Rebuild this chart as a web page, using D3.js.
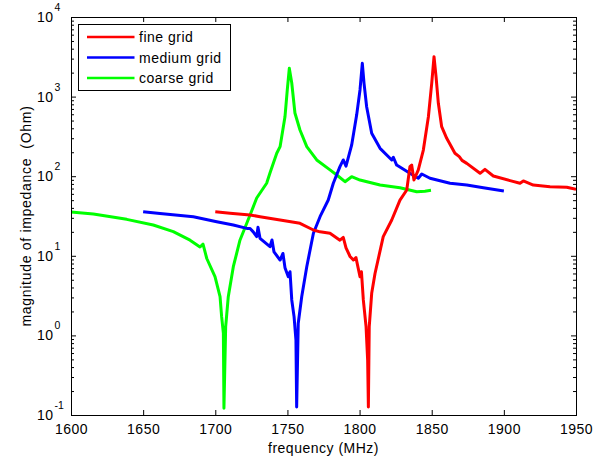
<!DOCTYPE html>
<html>
<head>
<meta charset="utf-8">
<script src="https://cdn.jsdelivr.net/npm/d3@7"></script>
<style>
  html, body { margin: 0; padding: 0; background: #fff; }
  svg text { font-family: "Liberation Sans", Arial, Helvetica, sans-serif; fill: #000; }
</style>
</head>
<body>
<svg id="chart" width="600" height="462"></svg>
<script>
// Impedance magnitude versus frequency for three mesh resolutions
const fineFreq = [1700, 1710.2, 1724.1, 1731.0, 1744.9, 1758.7, 1768.0, 1772.6, 1779.5, 1786.4, 1788.7, 1790.6,
  1793.4, 1795.7, 1797.5, 1800.3, 1801.3, 1802.6, 1804.5, 1805.6, 1806.1, 1806.7, 1808.4, 1810.7, 1816.4,
  1822.3, 1828.0, 1832.7, 1834.9, 1836.1, 1837.7, 1840.7, 1844.2, 1847.7, 1850.0, 1851.6, 1853.0, 1854.6,
  1856.9, 1860.4, 1866.1, 1869.1, 1871.0, 1874.3, 1883.5, 1886.9, 1892.7, 1904.3, 1911.2, 1913.5, 1920.4,
  1932.0, 1943.6, 1950];
const fineOhm = [35.8, 34.3, 32.6, 31.0, 28.2, 25.6, 21.1, 20.0, 19.2, 15.7, 17.0, 12.6,
  9.8, 8.85, 9.5, 5.46, 6.3, 2.79, 1.29, 0.49, 0.126, 1.29, 3.38, 6.0, 17.4,
  28.2, 50, 67.1, 132, 138, 89.5, 120, 213, 558, 1469, 3170, 1778, 824,
  419, 299, 194, 176, 158, 145, 108.7, 122, 100.7, 87.9, 81.5, 87.1, 77.4,
  73.8, 72.6, 68.4];

const mediumFreq = [1650, 1661.7, 1684.8, 1701.0, 1712.5, 1721.8, 1724.1, 1726.3, 1728.7, 1729.6, 1731.0,
  1737.9, 1739.3, 1740.7, 1744.9, 1746.9, 1748.3, 1750.6, 1751.8, 1753.0, 1754.6, 1755.9, 1756.4, 1757.5,
  1759.9, 1763.4, 1768.0, 1772.6, 1778.3, 1781.8, 1786.4, 1788.7, 1790.6, 1794.5, 1798.0, 1800.3, 1801.9,
  1803.1, 1804.9, 1808.4, 1814.2, 1822.3, 1823.4, 1825.7, 1834.9, 1840.7, 1843.1, 1848.8, 1862.7,
  1874.3, 1885.8, 1900];
const mediumOhm = [35.8, 33.9, 31.0, 26.8, 24.4, 22.1, 22.0, 20.0, 17.4, 22.9, 16.6,
  13.0, 15.8, 11.2, 8.85, 10.7, 7.1, 5.46, 6.3, 2.79, 1.72, 0.875, 0.126, 1.42,
  3.06, 7.3, 19.2, 31.0, 50.2, 81.5, 132, 160, 134, 245, 590, 1211, 2620,
  1469, 746, 346, 224, 160, 173, 138, 108.7, 94.2, 106.7, 94.2, 81.5,
  77.4, 71.6, 65.2];

const coarseFreq = [1600, 1615.5, 1638.6, 1657.0, 1670.9, 1682.5, 1689.4, 1691.5, 1694.1, 1699.8, 1703.3,
  1704.4, 1705.6, 1706.0, 1707.2, 1709.0, 1712.5, 1717.1, 1724.1, 1728.7, 1735.6, 1737.9, 1742.6, 1744.9,
  1748.3, 1749.9, 1751.3, 1753.0, 1755.2, 1758.7, 1763.4, 1770.3, 1779.5, 1784.2, 1789.9, 1794.5, 1800.3,
  1814.2, 1828.0, 1839.6, 1845.3, 1849.5];
const coarseOhm = [35.5, 33.5, 28.7, 24.4, 20.1, 15.7, 12.9, 14.0, 9.25, 5.46, 3.06,
  1.72, 1.07, 0.122, 1.29, 3.06, 7.3, 15.7, 32.6, 53.2, 81.5, 109.6, 194, 235,
  558, 1211, 2265, 1483, 622, 380, 235, 160, 120, 103.5, 85.3, 98.6, 89.5,
  77.4, 71.6, 63.8, 64.9, 66.5];

const seriesNames = ["fine grid", "medium grid", "coarse grid"];
const seriesColors = ["#ff0000", "#0000ff", "#00ff00"];
const xTicks = [1600, 1650, 1700, 1750, 1800, 1850, 1900, 1950];
const yDecades = [0.1, 1, 10, 100, 1000, 10000];
const yExponents = ["-1", "0", "1", "2", "3", "4"];

const series = [
  { name: seriesNames[0], color: seriesColors[0], pts: fineFreq.map((f, i) => [f, fineOhm[i]]) },
  { name: seriesNames[1], color: seriesColors[1], pts: mediumFreq.map((f, i) => [f, mediumOhm[i]]) },
  { name: seriesNames[2], color: seriesColors[2], pts: coarseFreq.map((f, i) => [f, coarseOhm[i]]) }
];

const L = 71, R = 576, T = 17, B = 415;
const svg = d3.select("#chart");
const x = d3.scaleLinear().domain([1600, 1950]).range([L, R]);
const y = d3.scaleLog().domain([0.1, 10000]).range([B, T]);

// minor ticks 2..9 within each decade
const yMinor = [];
for (let k = -1; k < 4; k++) for (let m = 2; m <= 9; m++) yMinor.push(m * Math.pow(10, k));

const fontSize = 14, spacing = "0.5px";

// axes (ticks point inward on all four sides)
const gBottom = svg.append("g").attr("transform", `translate(0,${B})`)
  .call(d3.axisBottom(x).tickValues(xTicks).tickSizeInner(-5).tickSizeOuter(0).tickPadding(9).tickFormat(d3.format("d")));
gBottom.selectAll("text").attr("font-size", fontSize).style("letter-spacing", spacing);
svg.append("g").attr("transform", `translate(0,${T})`)
  .call(d3.axisTop(x).tickValues(xTicks).tickSizeInner(-5).tickSizeOuter(0).tickFormat(""));
svg.append("g").attr("transform", `translate(${L},0)`)
  .call(d3.axisLeft(y).tickValues(yDecades).tickSizeInner(-5).tickSizeOuter(0).tickFormat(""));
svg.append("g").attr("transform", `translate(${L},0)`)
  .call(d3.axisLeft(y).tickValues(yMinor).tickSizeInner(-3).tickSizeOuter(0).tickFormat(""));
svg.append("g").attr("transform", `translate(${R},0)`)
  .call(d3.axisRight(y).tickValues(yDecades).tickSizeInner(-5).tickSizeOuter(0).tickFormat(""));
svg.append("g").attr("transform", `translate(${R},0)`)
  .call(d3.axisRight(y).tickValues(yMinor).tickSizeInner(-3).tickSizeOuter(0).tickFormat(""));
svg.selectAll(".domain").remove();
svg.selectAll(".tick line").attr("stroke", "#000");

// power-of-ten labels on the y axis
const yLab = svg.append("g").selectAll("g").data(yDecades).join("g");
yLab.append("text").attr("x", 53.5).attr("y", d => y(d) + 5)
  .attr("text-anchor", "end").attr("font-size", fontSize).style("letter-spacing", spacing).text("10");
yLab.append("text").attr("x", 54.5).attr("y", d => y(d) - 6)
  .attr("font-size", 10.5).text((d, i) => yExponents[i]);

// curves
const plot = svg.append("g");
plot.append("defs").append("clipPath").attr("id", "clip")
  .append("rect").attr("x", L).attr("y", T).attr("width", R - L).attr("height", B - T);
const line = d3.line().x(d => x(d[0])).y(d => y(d[1]));
plot.append("g").attr("clip-path", "url(#clip)")
  .selectAll("path").data(series.slice().reverse()).join("path")
  .attr("d", d => line(d.pts)).attr("fill", "none")
  .attr("stroke", d => d.color).attr("stroke-width", 3).attr("stroke-linejoin", "round");

// frame
svg.append("rect").attr("x", L).attr("y", T).attr("width", R - L).attr("height", B - T)
  .attr("fill", "none").attr("stroke", "#000").attr("stroke-width", 1).attr("shape-rendering", "crispEdges");

// axis titles
svg.append("text").attr("x", (L + R) / 2).attr("y", 453).attr("text-anchor", "middle")
  .attr("font-size", fontSize).style("letter-spacing", spacing).text("frequency (MHz)");
svg.append("text").attr("transform", `translate(31,${(T + B) / 2}) rotate(-90)`)
  .attr("text-anchor", "middle").attr("font-size", fontSize).style("letter-spacing", "0.7px")
  .style("white-space", "pre").text("magnitude of impedance  (Ohm)");

// legend
const leg = svg.append("g");
leg.append("rect").attr("x", 78.5).attr("y", 24.5).attr("width", 152).attr("height", 66)
  .attr("fill", "#fff").attr("stroke", "#000");
const item = leg.selectAll("g.item").data(series).join("g").attr("class", "item")
  .attr("transform", (d, i) => `translate(0,${37 + i * 20.5})`);
item.append("line").attr("x1", 87).attr("x2", 134.5).attr("stroke", d => d.color).attr("stroke-width", 2.5);
item.append("text").attr("x", 139).attr("y", 5).attr("font-size", fontSize).style("letter-spacing", spacing)
  .text(d => d.name);
</script>
</body>
</html>
